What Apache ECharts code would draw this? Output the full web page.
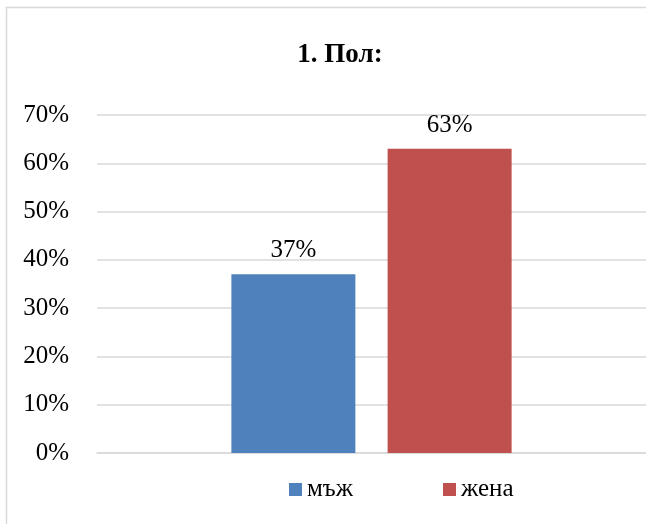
<!DOCTYPE html>
<html><head><meta charset="utf-8">
<script src="https://cdn.jsdelivr.net/npm/echarts@6/dist/echarts.min.js"></script>
<style>html,body{margin:0;padding:0;background:#fff}#c{width:646px;height:524px}</style>
</head><body><div id="c"></div>
<script>
const title = '1. Пол:';
const categories = [''];
const seriesNames = ['мъж', 'жена'];
const seriesValues = [[37], [63]];
const seriesColors = ['#4f81bd', '#c0504d'];
const yTicks = [0, 10, 20, 30, 40, 50, 60, 70];

const font = 'Liberation Serif, Times New Roman, serif';
const chart = echarts.init(document.getElementById('c'));
chart.setOption({
  animation: false,
  graphic: [{type: 'rect', shape: {x: 6.5, y: 7.5, width: 700, height: 600}, style: {fill: 'none', stroke: '#d9d9d9', lineWidth: 1.5}}],
  title: {text: title, left: 335, textAlign: 'center', top: 37, textStyle: {fontFamily: font, fontSize: 27, fontWeight: 'bold', color: '#000'}},
  legend: {data: seriesNames, left: 284, top: 472, itemWidth: 13, itemHeight: 13, itemGap: 90, icon: 'rect',
    textStyle: {fontFamily: font, fontSize: 25, color: '#000', padding: [0, 0, 0, 0]}},
  grid: {left: 97, right: 0, top: 115, bottom: 71},
  xAxis: {type: 'category', data: categories, axisLine: {lineStyle: {color: '#d9d9d9', width: 1.5}}, axisTick: {show: false}, axisLabel: {show: false}},
  yAxis: {type: 'value', min: yTicks[0], max: yTicks[yTicks.length - 1], interval: 10,
    axisLine: {show: false}, axisTick: {show: false},
    axisLabel: {formatter: v => v + '%', fontFamily: font, fontSize: 25, color: '#000', margin: 28},
    splitLine: {lineStyle: {color: '#d9d9d9', width: 1.5}}},
  series: seriesNames.map((n, i) => ({
    name: n, type: 'bar', data: seriesValues[i], barWidth: 124, barGap: '26%',
    itemStyle: {color: seriesColors[i]},
    label: {show: true, position: 'top', distance: 11, formatter: p => p.value + '%', fontFamily: font, fontSize: 25, color: '#000'}
  }))
});
</script></body></html>
